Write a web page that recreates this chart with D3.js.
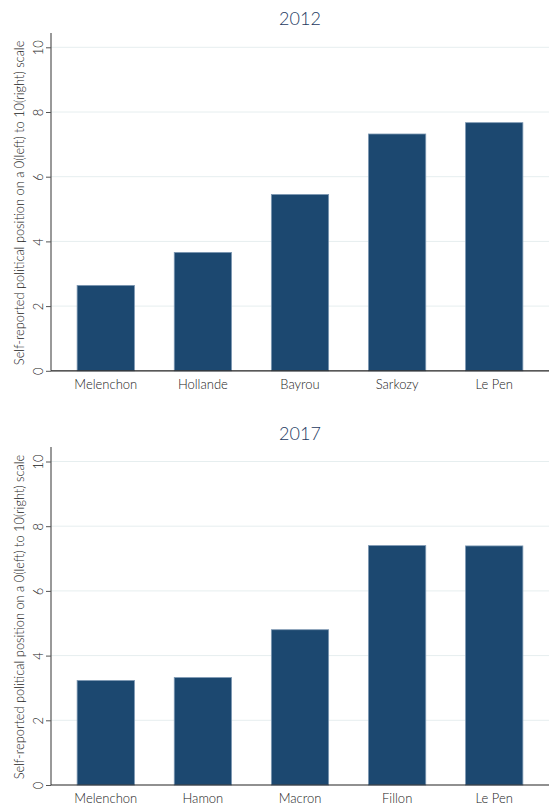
<!DOCTYPE html>
<html>
<head>
<meta charset="utf-8">
<script src="https://cdn.jsdelivr.net/npm/d3@7"></script>
<style>
  html, body { margin: 0; padding: 0; background: #fff; }
  svg { display: block; }
  text { font-family: Lato, "Open Sans", sans-serif; font-weight: 300; }
</style>
</head>
<body>
<div id="chart"></div>
<script>
const candidates2012 = ["Melenchon", "Hollande", "Bayrou", "Sarkozy", "Le Pen"];
const values2012 = [2.64, 3.66, 5.45, 7.32, 7.67];
const candidates2017 = ["Melenchon", "Hamon", "Macron", "Fillon", "Le Pen"];
const values2017 = [3.23, 3.32, 4.80, 7.40, 7.39];
const yTicks = [0, 2, 4, 6, 8, 10];
const yLabel = "Self-reported political position on a 0(left) to 10(right) scale";

const W = 549, H = 811;
const svg = d3.select("#chart").append("svg").attr("width", W).attr("height", H);

function drawPanel(title, cats, vals, layout) {
  const g = svg.append("g");
  const x = d3.scaleBand().domain(cats).range([layout.left, layout.right])
    .paddingInner(0.4).paddingOuter(0.264);
  const y = d3.scaleLinear().domain([0, 10]).range([layout.y0, layout.y10]);

  // gridlines
  g.selectAll("line.grid").data(yTicks.filter(t => t > 0)).enter().append("line")
    .attr("x1", layout.left).attr("x2", layout.right)
    .attr("y1", d => y(d)).attr("y2", d => y(d))
    .attr("stroke", "#e6eeef").attr("stroke-width", 1);

  // bars
  const data = cats.map((c, i) => ({c, v: vals[i]}));
  g.selectAll("rect.bar").data(data).enter().append("rect")
    .attr("x", d => x(d.c) + 0.5)
    .attr("width", x.bandwidth() - 1)
    .attr("y", d => y(d.v))
    .attr("height", d => y(0) - y(d.v))
    .attr("fill", "#1c4870")
    .attr("stroke", "#7c97b2").attr("stroke-width", 0.8);

  // y axis
  const yAxis = d3.axisLeft(y).tickValues(yTicks).tickSize(5).tickPadding(3);
  const ya = g.append("g").attr("transform", `translate(${layout.left},0)`).call(yAxis);
  ya.select(".domain").remove();
  ya.selectAll(".tick line").attr("stroke", "#555");
  ya.selectAll(".tick text")
    .attr("font-size", 13).attr("fill", "#222")
    .attr("text-anchor", "middle")
    .attr("x", 0).attr("dy", 0)
    .attr("transform", "translate(-13,0) rotate(-90)")
    .attr("dominant-baseline", "central")
    .style("font-family", "Lato, sans-serif").style("font-weight", 300);
  g.append("line")
    .attr("x1", layout.left).attr("x2", layout.left)
    .attr("y1", layout.y0).attr("y2", layout.axisTop)
    .attr("stroke", "#555").attr("stroke-width", 1.2);

  // x axis
  const xAxis = d3.axisBottom(x).tickSize(0).tickPadding(9);
  const xa = g.append("g").attr("transform", `translate(0,${layout.y0})`).call(xAxis);
  xa.select(".domain").remove();
  xa.selectAll(".tick text").attr("font-size", 13).attr("fill", "#222")
    .style("font-family", "Lato, sans-serif").style("font-weight", 300);
  g.append("line")
    .attr("x1", layout.left).attr("x2", layout.right)
    .attr("y1", layout.y0).attr("y2", layout.y0)
    .attr("stroke", "#222").attr("stroke-width", 1.2);

  // y label
  g.append("text")
    .attr("transform", `translate(${layout.labelX},${(layout.y0 + layout.axisTop) / 2 + 1}) rotate(-90)`)
    .attr("text-anchor", "middle")
    .attr("dominant-baseline", "central")
    .attr("font-size", 12.8).attr("fill", "#222")
    .text(yLabel);

  // title
  g.append("text")
    .attr("x", (layout.left + layout.right) / 2)
    .attr("y", layout.titleY)
    .attr("text-anchor", "middle")
    .attr("dominant-baseline", "central")
    .attr("font-size", 18).attr("fill", "#1e3a5f")
    .text(title);
}

drawPanel("2012", candidates2012, values2012,
  {left: 51, right: 549, y0: 370.8, y10: 47.3, axisTop: 33, labelX: 19, titleY: 18});
drawPanel("2017", candidates2017, values2017,
  {left: 51, right: 549, y0: 785, y10: 461.5, axisTop: 447, labelX: 19, titleY: 433});
</script>
</body>
</html>
